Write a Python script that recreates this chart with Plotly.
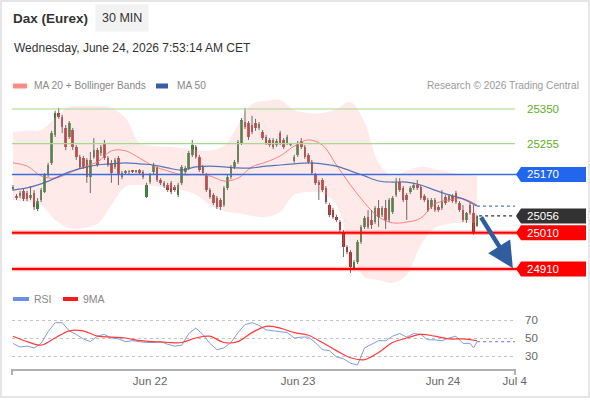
import plotly.graph_objects as go

# ---------------- data ----------------
opens = [25130,25111,25111,25125,25119,25105,25119,25075,25100,25122,
         25169,25202,25279,25339,25328,25298,25273,25292,25246,25218,
         25215,25210,25163,25218,25237,25229,25257,25215,25202,25191,
         25215,25174,25174,25177,25180,25177,25182,25177,25108,25149,
         25177,25188,25155,25147,25141,25147,25136,25114,25147,25177,
         25188,25224,25246,25218,25191,25169,25127,25114,25105,25100,
         25086,25133,25163,25191,25204,25257,25314,25312,25306,25312,
         25298,25287,25273,25265,25265,25251,25284,25265,25257,25251,
         25207,25224,25262,25246,25224,25204,25169,25149,25155,25133,
         25086,25072,25053,25039,25012,24971,24957,24913,24929,24985,
         25026,25053,25045,25039,25078,25059,25078,25045,25067,25114,
         25149,25133,25114,25122,25133,25141,25136,25111,25100,25081,
         25100,25081,25078,25108,25100,25111,25119,25092,25072,25045,
         25086,25064,25028]
highs = [25141,25116,25125,25130,25125,25138,25127,25105,25133,25174,
         25202,25290,25345,25353,25334,25306,25317,25298,25251,25224,
         25221,25215,25232,25270,25243,25251,25265,25221,25210,25215,
         25221,25180,25182,25182,25182,25182,25185,25182,25147,25174,
         25202,25193,25160,25152,25147,25152,25141,25147,25196,25193,
         25235,25265,25251,25224,25196,25174,25133,25119,25111,25105,
         25138,25169,25196,25210,25265,25325,25353,25317,25331,25323,
         25314,25292,25279,25270,25270,25268,25290,25270,25279,25257,
         25224,25262,25270,25251,25229,25210,25174,25155,25160,25138,
         25092,25078,25059,25045,25017,24976,24962,24935,24990,25031,
         25056,25072,25072,25083,25100,25083,25100,25105,25111,25160,
         25160,25138,25119,25138,25147,25155,25141,25116,25105,25105,
         25105,25086,25127,25114,25116,25116,25125,25097,25086,25067,
         25092,25086,25059]
lows = [25125,25100,25105,25097,25097,25100,25072,25069,25094,25119,
        25163,25196,25273,25323,25284,25237,25268,25237,25210,25185,
        25185,25147,25119,25213,25191,25221,25210,25191,25147,25185,
        25141,25157,25171,25171,25174,25174,25169,25157,25105,25144,
        25171,25149,25141,25133,25122,25116,25122,25108,25141,25171,
        25182,25218,25213,25177,25169,25122,25103,25086,25075,25072,
        25081,25127,25157,25185,25199,25251,25295,25265,25281,25290,
        25292,25265,25251,25246,25240,25246,25251,25240,25251,25248,
        25202,25218,25240,25213,25199,25169,25141,25100,25122,25089,
        25053,25048,25039,25012,24943,24951,24899,24907,24924,24979,
        25020,25020,25020,25034,25026,25053,25020,25039,25061,25108,
        25122,25094,25045,25116,25127,25127,25100,25094,25067,25075,
        25067,25067,25072,25086,25094,25092,25089,25067,25039,25037,
        25059,25004,25026]
closes = [25136,25105,25119,25103,25103,25114,25081,25097,25127,25169,
          25196,25284,25339,25328,25301,25246,25312,25246,25218,25191,
          25191,25163,25210,25237,25196,25246,25215,25196,25174,25210,
          25169,25163,25180,25178,25177,25180,25174,25163,25141,25169,
          25196,25155,25147,25138,25127,25122,25127,25141,25191,25188,
          25229,25251,25218,25182,25174,25127,25108,25092,25081,25081,
          25133,25163,25191,25204,25259,25320,25301,25273,25287,25298,
          25309,25270,25257,25251,25246,25262,25257,25246,25273,25254,
          25218,25257,25246,25218,25204,25174,25147,25141,25127,25094,
          25059,25053,25045,25017,24971,24957,24916,24929,24985,25026,
          25050,25026,25031,25078,25053,25078,25045,25100,25105,25147,
          25127,25100,25100,25133,25141,25133,25105,25100,25072,25100,
          25072,25072,25094,25092,25111,25097,25094,25072,25045,25064,
          25064,25012,25056]

band_idx = list(range(0, 133, 4))
bb_upper = [25287,25290,25292,25325,25356,25358,25358,25353,25325,25257,
            25248,25246,25243,25237,25235,25248,25306,25364,25372,25375,
            25347,25339,25339,25350,25369,25314,25202,25166,25180,25191,
            25185,25177,25169,25166]
bb_lower = [25100,25094,25086,25045,25023,25023,25034,25086,25136,25141,
            25138,25133,25127,25114,25086,25069,25064,25056,25053,25067,
            25114,25122,25119,25086,24962,24888,24880,24872,24894,24976,
            25023,25034,25037,25037]
ma20 = [25202,25193,25166,25160,25174,25191,25204,25235,25235,25215,
        25193,25180,25169,25169,25166,25152,25160,25191,25204,25221,
        25248,25265,25251,25196,25141,25092,25053,25037,25039,25050,
        25089,25100,25103,25086]
ma50 = [25127,25133,25144,25160,25177,25188,25196,25199,25202,25199,
        25196,25188,25182,25191,25193,25191,25188,25188,25193,25196,
        25199,25202,25199,25193,25180,25166,25152,25149,25149,25141,
        25127,25114,25103,25083]

rsi_idx = list(range(0, 131, 2)) + [131, 132]
rsi = [44,40,41,39,44,57,67,67,58,54,
       49,46,52,54,50,49,46,47,46,45,
       45,46,43,41,42,55,61,54,44,37,
       39,45,56,65,67,64,59,58,57,56,
       50,51,51,45,37,36,29,27,22,20,
       39,43,47,47,52,55,51,55,54,48,
       48,47,50,52,44,44,39,46]
rsi_ma_idx = list(range(0, 133, 4))
rsi_ma9 = [52,46,42,50,58,58,52,51,50,47,
           46,45,45,50,52,45,46,56,63,61,
           56,53,45,36,28,26,34,45,50,54,
           52,49,49,47]

resistances = [25350, 25255]
pivot = 25170
last_price = 25056
supports = [25010, 24910]

date_ticks = [39.0, 81.1, 122.3, 142.7]
date_labels = ["Jun 22", "Jun 23", "Jun 24", "Jul 4"]
rsi_ticks = [30, 50, 70]

# ---------------- layout helpers ----------------
W, H = 590, 400
ML, MR = 12, 75
PW = W - ML - MR
def px(x):
    return (x - ML) / PW
def py(y):
    return 1 - y / H

X_RANGE = [-0.28, 142.8]
PRICE_RANGE = [24852.25, 25383.0]
PPX = (PRICE_RANGE[1] - PRICE_RANGE[0]) / (290 - 97)   # price per pixel
RSI_RANGE = [15.56, 81.11]

FONT = "Liberation Sans, Arial, sans-serif"
GREEN_C = "#2b8a2b"
RED_C = "#dd1a1a"

n = len(closes)
idx = list(range(n))

fig = go.Figure()

# Bollinger band fill
fig.add_trace(go.Scatter(x=band_idx, y=bb_upper, mode="lines",
                         line=dict(width=0, shape="spline", color="rgba(0,0,0,0)"),
                         hoverinfo="skip", showlegend=False))
fig.add_trace(go.Scatter(x=band_idx, y=bb_lower, mode="lines", fill="tonexty",
                         fillcolor="rgba(255,190,190,0.33)",
                         line=dict(width=0, shape="spline", color="rgba(0,0,0,0)"),
                         hoverinfo="skip", showlegend=False))

# MA lines
fig.add_trace(go.Scatter(x=band_idx, y=ma20, mode="lines",
                         line=dict(width=1, shape="spline", color="#ff8080"),
                         hoverinfo="skip", showlegend=False))
fig.add_trace(go.Scatter(x=band_idx, y=ma50, mode="lines",
                         line=dict(width=1.2, shape="spline", color="rgba(60,95,175,0.85)"),
                         hoverinfo="skip", showlegend=False))

# wicks
wx, wy = [], []
for i in idx:
    wx += [i, i, None]
    wy += [lows[i], highs[i], None]
fig.add_trace(go.Scatter(x=wx, y=wy, mode="lines",
                         line=dict(width=1, color="#6a6a6a"),
                         hoverinfo="skip", showlegend=False))

# bodies
body_base = [min(o, c) for o, c in zip(opens, closes)]
body_h = [max(abs(c - o), 2.0) for o, c in zip(opens, closes)]
body_col = [GREEN_C if c >= o else RED_C for o, c in zip(opens, closes)]
fig.add_trace(go.Bar(x=idx, y=body_h, base=body_base, width=0.72,
                     marker=dict(color=body_col, line=dict(width=0)),
                     hoverinfo="skip", showlegend=False))

# dotted continuations
fig.add_trace(go.Scatter(x=[n - 1, X_RANGE[1]], y=[ma50[-1], ma50[-1]], mode="lines",
                         line=dict(width=1.2, dash="dot", color="#5577bb"),
                         hoverinfo="skip", showlegend=False))
fig.add_trace(go.Scatter(x=[n - 0.4, X_RANGE[1]], y=[last_price, last_price], mode="lines",
                         line=dict(width=1.2, dash="dot", color="#333333"),
                         hoverinfo="skip", showlegend=False))

# RSI panel
fig.add_trace(go.Scatter(x=rsi_idx, y=rsi, mode="lines", yaxis="y2",
                         line=dict(width=1, color="#7f9be8"),
                         hoverinfo="skip", showlegend=False))
fig.add_trace(go.Scatter(x=rsi_ma_idx, y=rsi_ma9, mode="lines", yaxis="y2",
                         line=dict(width=1.2, shape="spline", color="#ff3b3b"),
                         hoverinfo="skip", showlegend=False))
fig.add_trace(go.Scatter(x=[rsi_idx[-1], X_RANGE[1]], y=[rsi[-1], rsi[-1]], mode="lines",
                         yaxis="y2", line=dict(width=1.2, dash="dot", color="#7f9be8"),
                         hoverinfo="skip", showlegend=False))

shapes = []
annotations = []

# frame
shapes.append(dict(type="rect", xref="paper", yref="paper",
                   x0=px(1), x1=px(589), y0=py(397), y1=py(1),
                   line=dict(color="#e6e6e6", width=2), layer="below"))

# level lines
for lv in resistances:
    shapes.append(dict(type="line", xref="x domain", yref="y", x0=0, x1=1, y0=lv, y1=lv,
                       line=dict(color="#a8d88a", width=1.2)))
shapes.append(dict(type="line", xref="paper", yref="y", x0=0, x1=px(586), y0=pivot, y1=pivot,
                   line=dict(color="#3a6ee0", width=1.6)))
for lv in supports:
    shapes.append(dict(type="line", xref="paper", yref="y", x0=0, x1=px(518), y0=lv, y1=lv,
                       line=dict(color="rgba(255,0,0,0.28)", width=4.5)))
    shapes.append(dict(type="line", xref="paper", yref="y", x0=0, x1=px(518), y0=lv, y1=lv,
                       line=dict(color="#ff0000", width=2)))

# label boxes with notch
def box(level, color):
    h = 7.5 * PPX
    xt, xr, xe = px(516), px(521), px(586)
    path = (f"M {xt},{level} L {xr},{level + h} L {xe},{level + h} "
            f"L {xe},{level - h} L {xr},{level - h} Z")
    shapes.append(dict(type="path", xref="paper", yref="y", path=path,
                       fillcolor=color, line=dict(width=0)))
    annotations.append(dict(xref="paper", yref="y", x=px(525), y=level, xanchor="left",
                            yanchor="middle", text=f"{level}", showarrow=False,
                            font=dict(family=FONT, size=11.5, color="white")))

box(pivot, "#2266ee")
box(last_price, "#333333")
for lv in supports:
    box(lv, "#ff0000")
for lv in resistances:
    annotations.append(dict(xref="paper", yref="y", x=px(525), y=lv, xanchor="left",
                            yanchor="middle", text=f"{lv}", showarrow=False,
                            font=dict(family=FONT, size=11.5, color="#5fae24")))

# x-axis end ticks
for xx in (0, 1):
    shapes.append(dict(type="line", xref="paper", yref="paper", x0=xx, x1=xx,
                       y0=py(369), y1=py(375), line=dict(color="#b0b0b0", width=2)))

# legend swatches
shapes.append(dict(type="rect", xref="paper", yref="paper", x0=px(13), x1=px(27),
                   y0=py(88.5), y1=py(83.5), fillcolor="#ff8a8a", line=dict(width=0)))
shapes.append(dict(type="rect", xref="paper", yref="paper", x0=px(156), x1=px(168),
                   y0=py(88.5), y1=py(83.5), fillcolor="#3a5ea8", line=dict(width=0)))
shapes.append(dict(type="rect", xref="paper", yref="paper", x0=px(13), x1=px(29),
                   y0=py(301), y1=py(297), fillcolor="#6f8ee6", line=dict(width=0)))
shapes.append(dict(type="rect", xref="paper", yref="paper", x0=px(63), x1=px(78),
                   y0=py(301), y1=py(297), fillcolor="#ff1a1a", line=dict(width=0)))

def txt(x, y, s, size, color, anchor="left", bold=False, **kw):
    annotations.append(dict(xref="paper", yref="paper", x=px(x), y=py(y), xanchor=anchor,
                            yanchor="middle", text=(f"<b>{s}</b>" if bold else s),
                            showarrow=False, font=dict(family=FONT, size=size, color=color), **kw))

txt(11, 18, "Dax (Eurex)", 13.5, "#333333", bold=True)
txt(122, 18, "30 MIN", 12.5, "#333333", anchor="center", bgcolor="#f2f2f2", borderpad=6)
txt(12, 48, "Wednesday, June 24, 2026 7:53:14 AM CET", 12, "#333333")
txt(32, 86, "MA 20 + Bollinger Bands", 10.2, "#888888")
txt(175, 86, "MA 50", 10.2, "#888888")
txt(581, 86, "Research © 2026 Trading Central", 10.2, "#9a9a9a", anchor="right")
txt(32, 299, "RSI", 10.5, "#888888")
txt(81, 299, "9MA", 10.5, "#888888")

# forecast arrow: from last price toward the lower support target
annotations.append(dict(xref="x", yref="y", axref="x", ayref="y",
                        x=142.2, y=supports[-1] + 2, ax=n - 0.1, ay=last_price,
                        text="", showarrow=True, arrowhead=2, arrowsize=1.15,
                        arrowwidth=4.5, arrowcolor="#2f5d9e"))

fig.update_layout(
    width=W, height=H,
    margin=dict(l=ML, r=MR, t=0, b=0),
    paper_bgcolor="white", plot_bgcolor="white",
    showlegend=False, bargap=0,
    font=dict(family=FONT),
    xaxis=dict(range=X_RANGE, anchor="y2", showgrid=False, zeroline=False,
               showline=True, linecolor="#b0b0b0", linewidth=2, ticks="",
               tickvals=date_ticks, ticktext=date_labels,
               tickfont=dict(family=FONT, size=11.5, color="#666666")),
    yaxis=dict(domain=[py(290), py(97)], range=PRICE_RANGE, showgrid=False,
               zeroline=False, showticklabels=False, showline=False),
    yaxis2=dict(domain=[py(369), py(310)], range=RSI_RANGE, side="right",
                tickvals=rsi_ticks, showgrid=True, griddash="dot", gridcolor="#c4c4c4",
                gridwidth=1, zeroline=False, showline=False, ticks="",
                ticklabelstandoff=9,
                tickfont=dict(family=FONT, size=11.5, color="#666666")),
    shapes=shapes, annotations=annotations,
)

fig.write_html("out.html")
